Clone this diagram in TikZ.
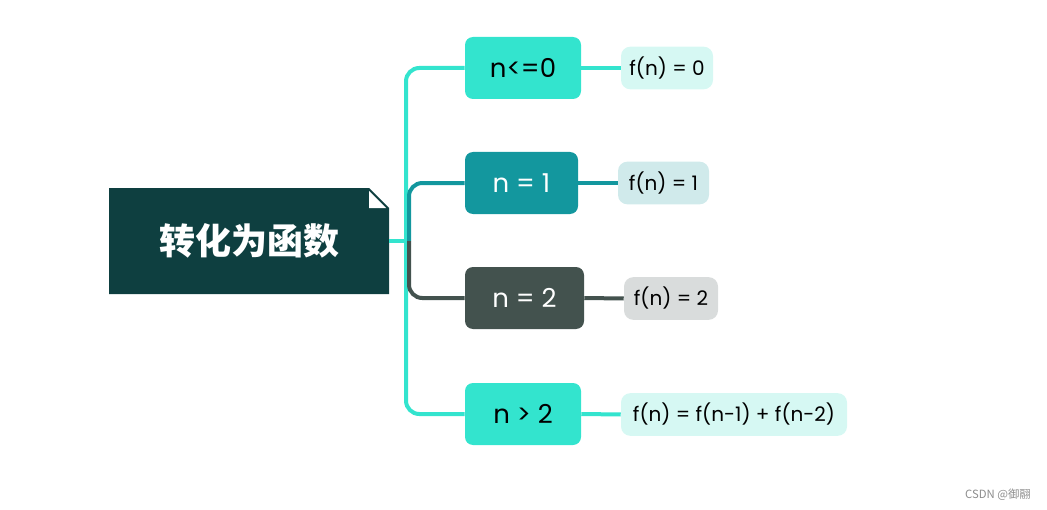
\documentclass[tikz,border=0pt]{standalone}
\usepackage{fontspec}
\setmainfont{Poppins}
\newfontfamily\cjk{Noto Sans CJK SC}
\definecolor{rootcol}{HTML}{0E3F40}
\definecolor{cyancol}{HTML}{33E4CE}
\definecolor{tealcol}{HTML}{13979E}
\definecolor{graycol}{HTML}{43524E}
\definecolor{lcyan}{HTML}{D6F8F3}
\definecolor{lteal}{HTML}{D0EAEB}
\definecolor{lgray}{HTML}{D9DCDC}

\begin{document}
\begin{tikzpicture}[x=0.75pt,y=-0.75pt,
  bigbox/.style={rectangle,rounded corners=6pt,minimum height=46.5pt,inner sep=0pt,font=\fontsize{19.5}{22}\selectfont},
  smallbox/.style={rectangle,rounded corners=7pt,minimum height=32pt,inner sep=0pt,font=\fontsize{15}{18}\selectfont},
  link/.style={line width=3pt}]
\useasboundingbox (0,0) rectangle (1047,510);
% root topic with folded corner
\fill[rootcol] (109,188) -- (369,188) -- (389,208) -- (389,294) -- (109,294) -- cycle;
\fill[white] (369,191) -- (369,208) -- (386,208) -- cycle;
\node (root) at (249,241) [minimum width=210pt,minimum height=79.5pt,inner sep=0pt,text=white,font=\cjk\bfseries\fontsize{27}{30}\selectfont] {转化为函数};
% branches
\node (nle) at (523,68) [bigbox,fill=cyancol,minimum width=87pt] {n<=0};
\node (neq1) at (521.5,183) [bigbox,fill=tealcol,text=white,minimum width=84.75pt] {n = 1};
\node (neq2) at (524.5,298) [bigbox,fill=graycol,text=white,minimum width=89.25pt] {n = 2};
\node (ngt) at (523,414) [bigbox,fill=cyancol,minimum width=87pt] {n > 2};
\node (fa) at (667,68) [smallbox,fill=lcyan,minimum width=69pt] {f(n) = 0};
\node (fb) at (663.5,183) [smallbox,fill=lteal,minimum width=68.25pt] {f(n) = 1};
\node (fc) at (671,298.5) [smallbox,fill=lgray,minimum width=70.5pt] {f(n) = 2};
\node (fd) at (734,414.5) [smallbox,fill=lcyan,minimum width=169.5pt] {f(n) = f(n-1) + f(n-2)};
\coordinate (fork) at (406,241);
\coordinate (fork2) at (409,241);
\draw[link,cyancol] (root.east) -- (fork);
\draw[link,cyancol,rounded corners=10pt] (fork) |- (nle.west);
\draw[link,cyancol,rounded corners=10pt] (fork) |- (ngt.west);
\draw[link,tealcol,rounded corners=10pt] (fork2) |- (neq1.west);
\draw[link,graycol,rounded corners=10pt] (fork2) |- (neq2.west);
\draw[link,cyancol] (nle.east) -- (fa.west);
\draw[link,tealcol] (neq1.east) -- (fb.west);
\draw[link,graycol] (neq2.east) -- (fc.west);
\draw[link,cyancol] (ngt.east) -- (fd.west);
\node (mark) at (998,495) [text=black!45,font=\cjk\fontsize{8.5}{10}\selectfont] {CSDN @御翮};
\end{tikzpicture}
\end{document}
